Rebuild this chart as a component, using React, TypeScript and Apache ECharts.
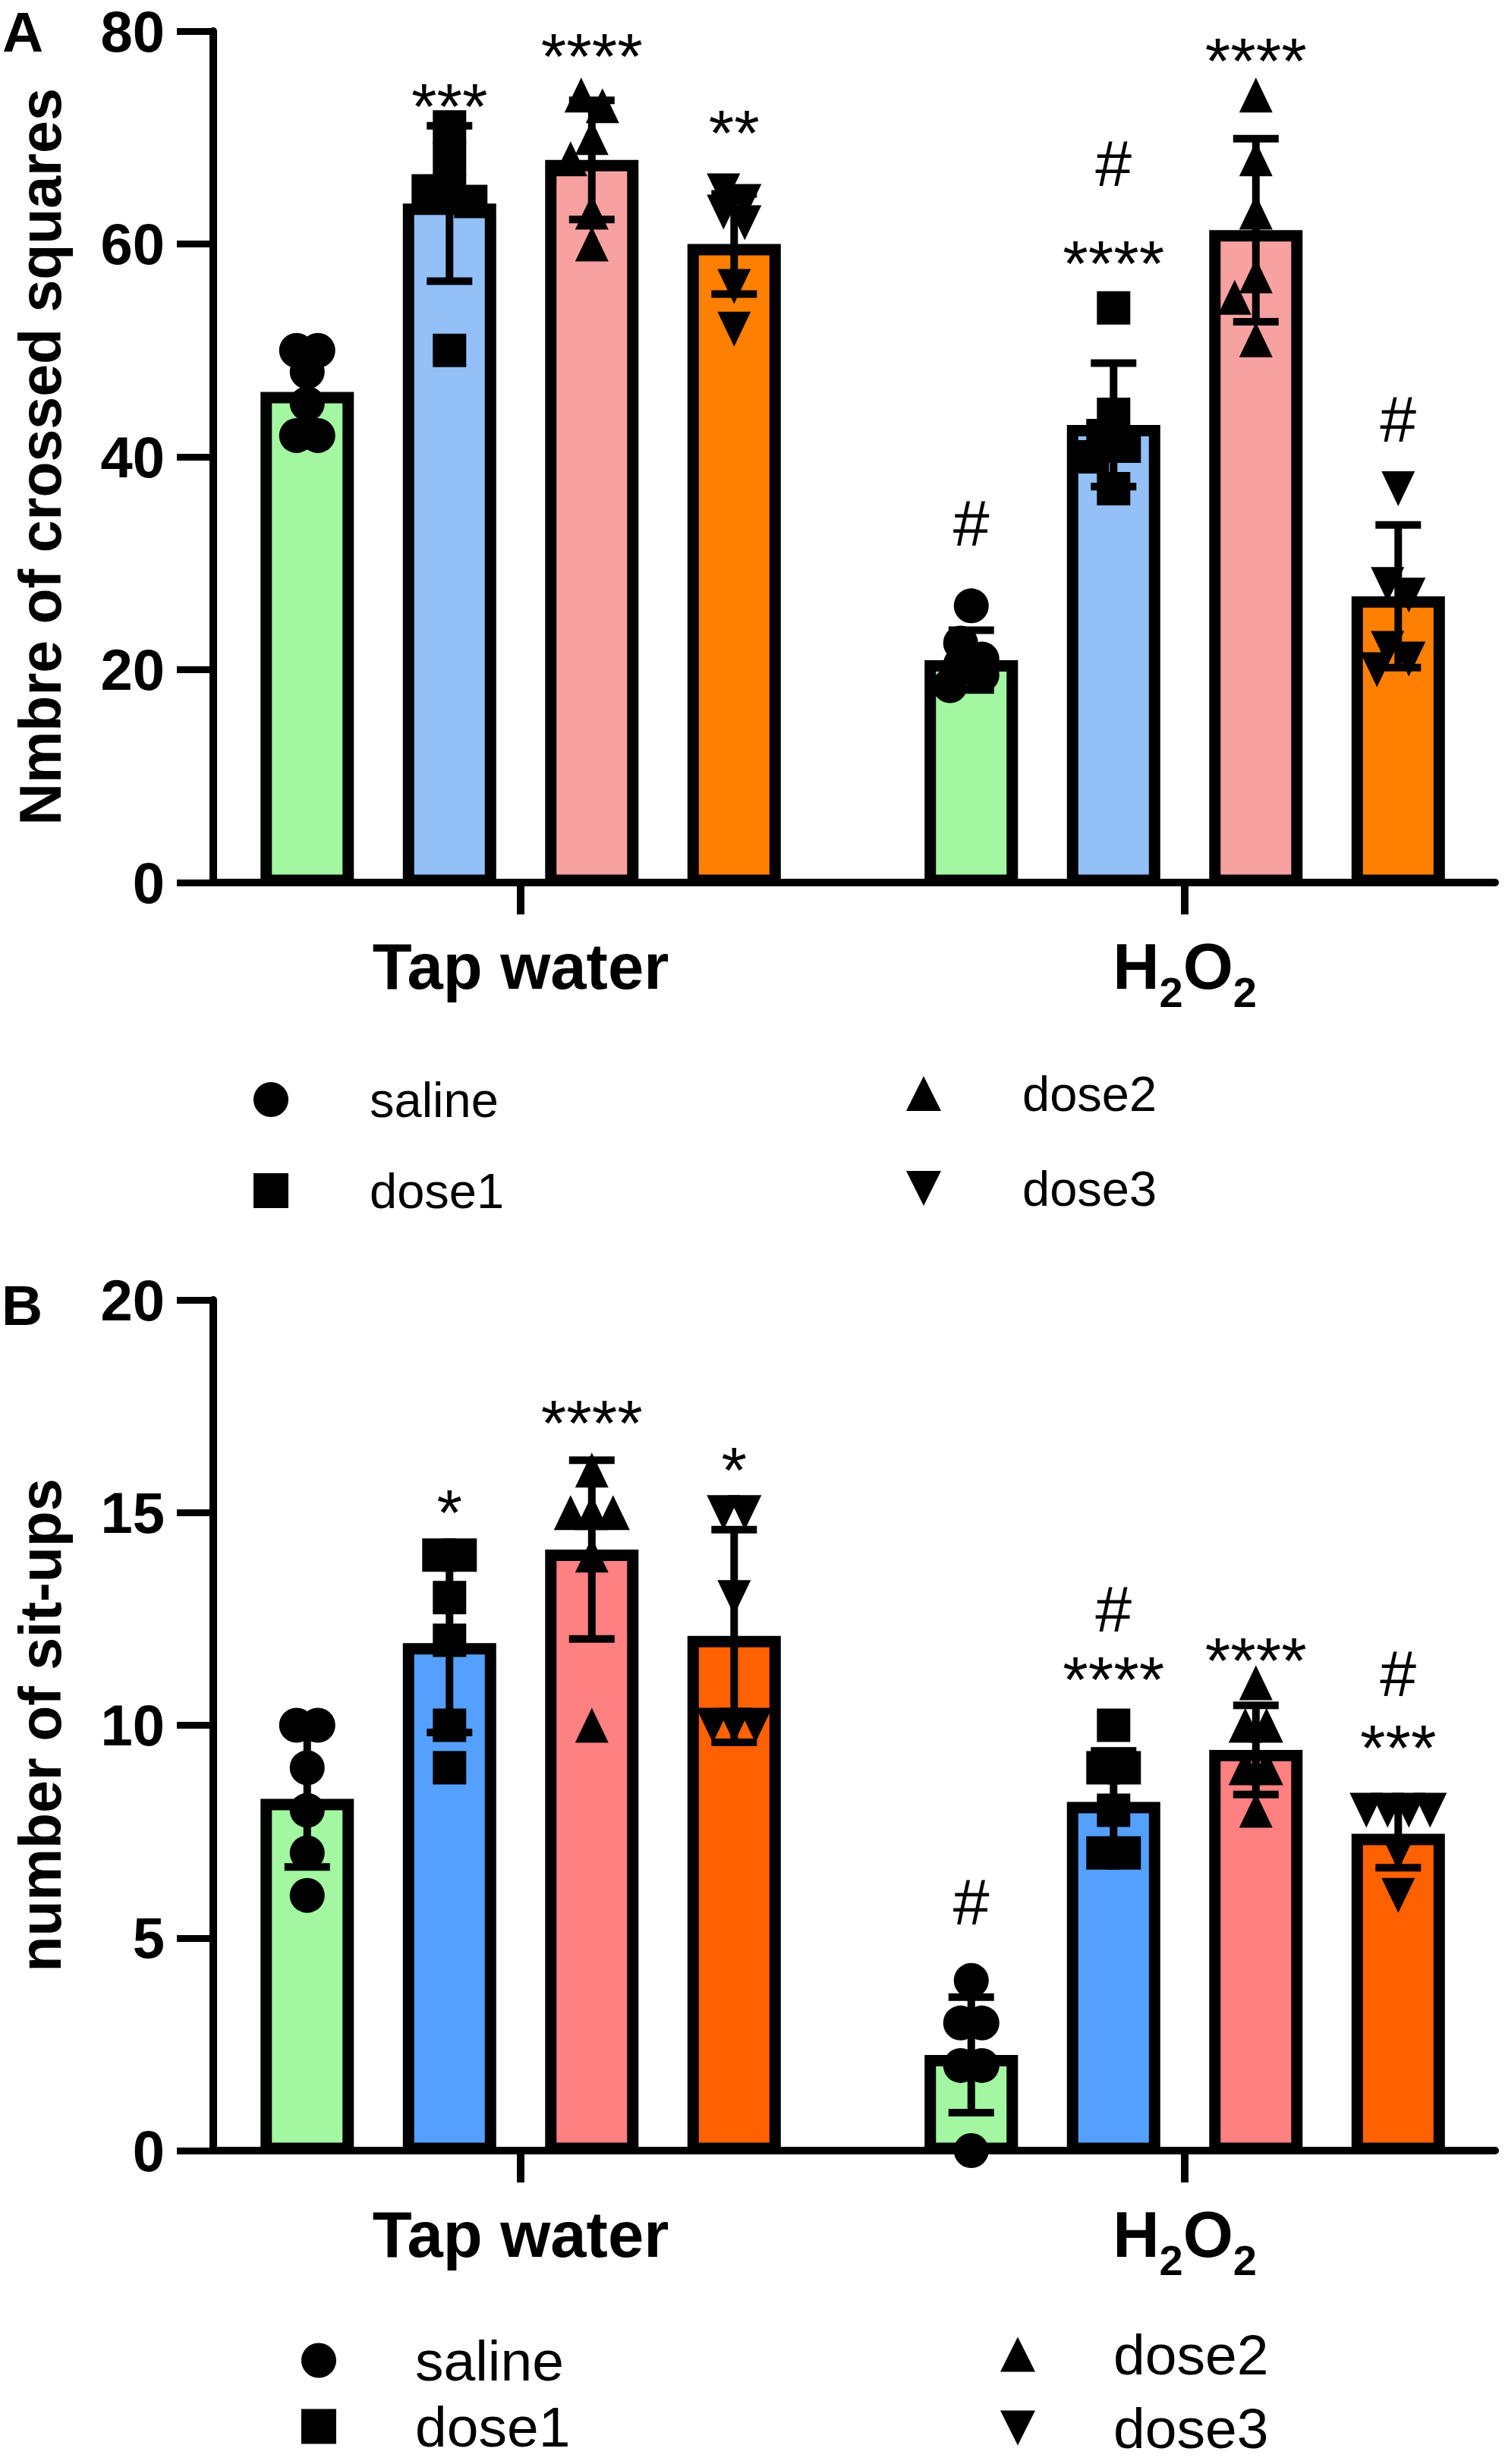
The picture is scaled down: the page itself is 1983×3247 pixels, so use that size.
import React, { useEffect, useRef } from 'react';
import * as echarts from 'echarts';

// ---------------- data ----------------
const groups = ['Tap water', 'H2O2'];
const treatments = ['saline', 'dose1', 'dose2', 'dose3'];

const colorsA = ['#A2F7A0', '#92C0F7', '#F8A1A1', '#FF8000'];
const colorsB = ['#A2F7A0', '#55A0FF', '#FF8080', '#FF6100'];

const yTicksA = [0, 20, 40, 60, 80];
const yTicksB = [0, 5, 10, 15, 20];

const titleA = 'Nmbre of crossed squares';
const titleB = 'number of sit-ups';

// panel A: mean, SD and individual values, [group][treatment]
const meanA = [[46.1, 63.8, 67.9, 60.0], [20.9, 43.0, 61.3, 26.9]];
const sdA = [[3.95, 7.3, 5.6, 4.7], [2.8, 5.8, 8.6, 6.7]];
const pointsA = [
  [[50, 50, 48, 45, 42, 42], [71, 68, 65, 65, 64, 50], [74, 73, 70, 68, 63, 60], [65, 64, 63, 62, 56, 52]],
  [[26, 22.5, 21, 20.5, 19.5, 18.5], [54, 44, 42, 41, 40, 37], [74, 68, 63, 57, 55, 51], [37, 28, 27, 22, 21, 20]],
];
// [group, treatment, text, value at glyph centre]
const annoA: [number, number, string, number][] = [
  [0, 1, '***', 73.7], [0, 2, '****', 78.4], [0, 3, '**', 71.2],
  [1, 0, '#', 33.8], [1, 1, '****', 59.0], [1, 1, '#', 67.6], [1, 2, '****', 78.0], [1, 3, '#', 43.6],
];

// panel B
const meanB = [[8.27, 11.93, 14.13, 12.1], [2.25, 8.2, 9.42, 7.45]];
const sdB = [[1.6, 2.1, 2.1, 2.5], [1.36, 1.2, 1.05, 0.8]];
const pointsB = [
  [[10, 10, 9, 8, 7, 6], [14, 14, 13, 12, 10, 9], [16, 15, 15, 15, 14, 10], [15, 15, 13, 10, 10, 10]],
  [[4, 3, 3, 2, 2, 0], [10, 9, 9, 8, 7, 7], [11, 10, 10, 9, 9, 8], [8, 8, 8, 8, 7, 6]],
];
const annoB: [number, number, string, number][] = [
  [0, 1, '*', 15.2], [0, 2, '****', 17.3], [0, 3, '*', 16.2],
  [1, 0, '#', 5.86], [1, 1, '#', 12.73], [1, 1, '****', 11.28], [1, 2, '****', 11.73],
  [1, 3, '#', 11.22], [1, 3, '***', 9.67],
];

// ---------------- layout ----------------
const W = 1983;
const H = 3247;
const F = "'Liberation Sans', Arial, Helvetica, sans-serif";
const AX_LEFT = 281;
const AX_RIGHT = 1970;
const X_MIN = -0.4629;
const X_MAX = 1.4674;
const PX_PER_X = (AX_RIGHT - AX_LEFT) / (X_MAX - X_MIN);
const BAR_STEP = 0.2143;
const BAR_W = 0.1406;
const BORDER = 15;
const SYM = 46;

const symbols = ['circle', 'rect', 'triangle', 'path://M0,0L10,0L5,10Z'];
const legendIcons = ['circle', 'path://M0,0L10,0L10,10L0,10Z', 'path://M5,0L10,10L0,10Z', 'path://M0,0L10,0L5,10Z'];
const symbolSizes: any[] = [46, 44, [44, 46], [44, 46]];

const xOf = (g: number, k: number) => g + (k - 1.5) * BAR_STEP;

function swarm(vals: number[], pxPerUnit: number, size: number, step: number): number[] {
  const idx = vals.map((_, i) => i).sort((a, b) => vals[b] - vals[a]);
  const off = new Array(vals.length).fill(0);
  const rows: number[][] = [];
  idx.forEach((i) => {
    const last = rows[rows.length - 1];
    if (last && Math.abs(vals[last[0]] - vals[i]) * pxPerUnit < size * 0.5) last.push(i);
    else rows.push([i]);
  });
  const placed: [number, number][] = [];
  rows.forEach((row) => {
    if (row.length > 1) {
      row.forEach((i, j) => {
        off[i] = (j - (row.length - 1) / 2) * step;
        placed.push([off[i], vals[i] * pxPerUnit]);
      });
    } else {
      const i = row[0];
      const y = vals[i] * pxPerUnit;
      let best = 0;
      let bestD = -1;
      for (const c of [0, -step, step]) {
        const d = Math.min(Infinity, ...placed.map((p) => Math.hypot(p[0] - c, p[1] - y)));
        if (d >= size * 0.9) { best = c; break; }
        if (d > bestD) { bestD = d; best = c; }
      }
      off[i] = best;
      placed.push([best, y]);
    }
  });
  return off;
}

type Panel = {
  top: number; height: number; yMax: number; ticks: number[]; title: string;
  mean: number[][]; sd: number[][]; points: number[][][]; anno: [number, number, string, number][];
  colors: string[];
};

const panels: Panel[] = [
  { top: 41, height: 1122, yMax: 80, ticks: yTicksA, title: titleA, mean: meanA, sd: sdA, points: pointsA, anno: annoA, colors: colorsA },
  { top: 1713, height: 1121, yMax: 20, ticks: yTicksB, title: titleB, mean: meanB, sd: sdB, points: pointsB, anno: annoB, colors: colorsB },
];

function buildOption() {
  const grid: any[] = [];
  const xAxis: any[] = [];
  const yAxis: any[] = [];
  const series: any[] = [];

  panels.forEach((p, pi) => {
    grid.push({ left: AX_LEFT, top: p.top, width: AX_RIGHT - AX_LEFT, height: p.height, containLabel: false });
    xAxis.push({
      type: 'value', gridIndex: pi, min: X_MIN, max: X_MAX,
      splitLine: { show: false },
      axisLine: { show: true, onZero: false, lineStyle: { color: '#000', width: 10 } },
      axisTick: { show: true, customValues: [0, 1], length: 42, lineStyle: { color: '#000', width: 10 } },
      axisLabel: {
        show: true, customValues: [0, 1], margin: 68,
        formatter: (v: number) => (v < 0.5 ? '{m|' + groups[0] + '}' : '{m|H}{s|2}{m|O}{s|2}'),
        rich: {
          m: { fontSize: 85, fontWeight: 'bold', fontFamily: F, color: '#000', lineHeight: 104, height: 85, verticalAlign: 'top' },
          s: { fontSize: 56, fontWeight: 'bold', fontFamily: F, color: '#000', lineHeight: 104, height: 56, verticalAlign: 'bottom' },
        },
      },
    });
    const interval = p.ticks[1] - p.ticks[0];
    yAxis.push({
      type: 'value', gridIndex: pi, min: p.ticks[0], max: p.ticks[p.ticks.length - 1], interval,
      splitLine: { show: false },
      axisLine: { show: true, onZero: false, lineStyle: { color: '#000', width: 10 } },
      axisTick: { show: true, length: 48, lineStyle: { color: '#000', width: 9 } },
      axisLabel: { margin: 64, fontSize: 76, fontWeight: 'bold', fontFamily: F, color: '#000' },
      name: p.title, nameLocation: 'middle', nameGap: 190,
      nameTextStyle: { fontSize: 77, fontWeight: 'bold', fontFamily: F, color: '#000' },
    });

    const pxPerY = p.height / p.yMax;

    // bars
    const barData: number[][] = [];
    const errData: number[][] = [];
    for (let g = 0; g < 2; g++) {
      for (let k = 0; k < 4; k++) {
        barData.push([xOf(g, k), p.mean[g][k], k]);
        errData.push([xOf(g, k), p.mean[g][k], p.sd[g][k]]);
      }
    }
    const colors = p.colors;
    series.push({
      type: 'custom', xAxisIndex: pi, yAxisIndex: pi, z: 2, silent: true,
      encode: { x: 0, y: 1 },
      data: barData,
      renderItem: (params: any, api: any) => {
        const x = api.value(0);
        const m = api.value(1);
        const k = api.value(2);
        const tl = api.coord([x - BAR_W / 2, m]);
        const br = api.coord([x + BAR_W / 2, 0]);
        return {
          type: 'rect',
          shape: { x: tl[0] + BORDER / 2, y: tl[1] + BORDER / 2, width: br[0] - tl[0] - BORDER, height: br[1] - tl[1] - BORDER / 2 - 3 },
          style: { fill: colors[k], stroke: '#000', lineWidth: BORDER },
        };
      },
    });

    // scatter points
    treatments.forEach((name, k) => {
      const data: number[][] = [];
      for (let g = 0; g < 2; g++) {
        const vals = p.points[g][k];
        const off = swarm(vals, pxPerY, SYM, 28);
        vals.forEach((v, i) => data.push([xOf(g, k) + off[i] / PX_PER_X, v]));
      }
      series.push({
        type: 'scatter', name, xAxisIndex: pi, yAxisIndex: pi, z: 4, silent: true, clip: false,
        symbol: symbols[k], symbolSize: symbolSizes[k], symbolKeepAspect: false,
        itemStyle: { color: '#000', opacity: 1 },
        data,
      });
    });

    // error bars
    series.push({
      type: 'custom', xAxisIndex: pi, yAxisIndex: pi, z: 5, silent: true,
      encode: { x: 0, y: 1 },
      data: errData,
      renderItem: (params: any, api: any) => {
        const x = api.value(0);
        const m = api.value(1);
        const s = api.value(2);
        const t = api.coord([x, m + s]);
        const b = api.coord([x, m - s]);
        const st = { stroke: '#000', lineWidth: 10 };
        return {
          type: 'group',
          children: [
            { type: 'line', shape: { x1: t[0], y1: t[1], x2: b[0], y2: b[1] }, style: st },
            { type: 'line', shape: { x1: t[0] - 30, y1: t[1], x2: t[0] + 30, y2: t[1] }, style: st },
            { type: 'line', shape: { x1: b[0] - 30, y1: b[1], x2: b[0] + 30, y2: b[1] }, style: st },
          ],
        };
      },
    });

    // significance marks
    const anno = p.anno;
    series.push({
      type: 'custom', xAxisIndex: pi, yAxisIndex: pi, z: 6, silent: true,
      encode: { x: 0, y: 1 },
      data: anno.map((a) => [xOf(a[0], a[1]), a[3]]),
      renderItem: (params: any, api: any) => {
        const a = anno[params.dataIndex];
        const pt = api.coord([api.value(0), api.value(1)]);
        const isStar = a[2].indexOf('*') >= 0;
        return {
          type: 'text',
          x: pt[0], y: pt[1] + (isStar ? 11 : 0),
          style: { text: a[2], fontSize: 86, fontFamily: F, fill: '#000', align: 'center', verticalAlign: 'middle' },
        };
      },
    });
  });

  // legend: (icon centre x, first icon centre y, icon-centre-to-text distance, row pitch, font size)
  const legendBase = (cx: number, cy: number, textDist: number, pitch: number, fs: number, names: number[]) => {
    const itemWidth = 2 * (textDist - 5);
    const textH = Math.round(fs * 1.094);
    return {
      orient: 'vertical', left: cx - 23, top: cy - textH / 2, height: 400,
      itemWidth, itemHeight: 46, itemGap: pitch - textH, padding: 0,
      selectedMode: false,
      data: names.map((k) => ({ name: treatments[k], icon: legendIcons[k] })),
      textStyle: { fontSize: fs, fontFamily: F, color: '#000' },
    };
  };

  return {
    animation: false,
    backgroundColor: '#fff',
    grid, xAxis, yAxis, series,
    legend: [
      legendBase(357, 1452, 130, 126, 65, [0, 1]),
      legendBase(1217, 1444, 130, 131, 65, [2, 3]),
      legendBase(420, 3114, 127, 94, 75, [0, 1]),
      legendBase(1341, 3106, 126, 104, 75, [2, 3]),
    ],
    graphic: [
      { type: 'text', left: 3, top: 4, style: { text: 'A', fontSize: 75, fontWeight: 'bold', fontFamily: F, fill: '#000' } },
      { type: 'text', left: 2, top: 1682, style: { text: 'B', fontSize: 75, fontWeight: 'bold', fontFamily: F, fill: '#000' } },
    ],
  };
}

export default function App() {
  const ref = useRef<HTMLDivElement>(null);
  useEffect(() => {
    if (!ref.current) return;
    const chart = echarts.init(ref.current, undefined, { renderer: 'svg' });
    chart.setOption(buildOption() as any);
    return () => chart.dispose();
  }, []);
  return <div ref={ref} style={{ position: 'absolute', left: 0, top: 0, width: W, height: H, background: '#fff' }} />;
}
